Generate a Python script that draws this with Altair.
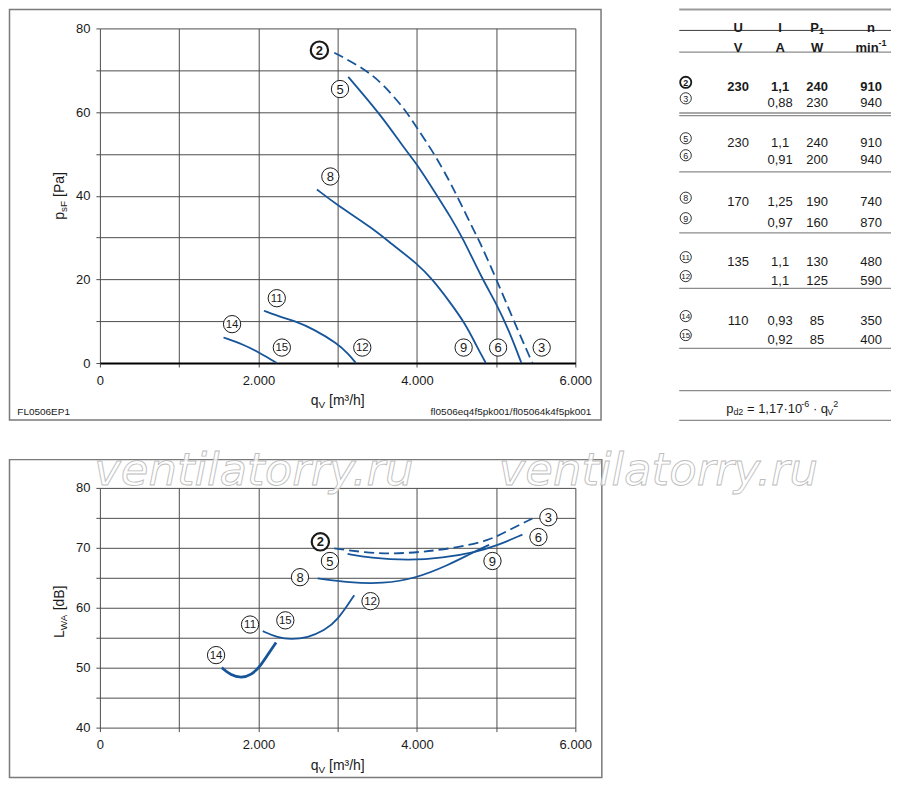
import altair as alt
import pandas as pd

FONT = "Liberation Sans"
BLUE = "#17559a"
GRID = "#4d4d4d"
INK = "#1a1a1a"

# ---------------- data: pressure curves (top) q_V [m3/h] -> p_sF [Pa] ----------------
top_c23_q = [2958, 3336, 3567, 3861, 4008, 4218, 4408, 4492, 4639, 4765, 4808, 4996, 5206, 5458]
top_c23_p = [74.2, 70.4, 66.8, 60.4, 56.0, 50.1, 43.6, 40.5, 34.8, 30.0, 28.3, 20.4, 10.8, 0.0]
top_c56_q = [3134, 3567, 3840, 4015, 4239, 4429, 4576, 4828, 4996, 5164, 5319]
top_c56_p = [68.4, 58.8, 51.3, 47.2, 40.5, 34.8, 30.0, 20.0, 14.5, 7.7, 0.0]
top_c89_q = [2739, 3000, 3434, 3680, 4008, 4197, 4408, 4618, 4744, 4870]
top_c89_p = [41.5, 37.7, 32.3, 28.5, 23.7, 20.0, 14.8, 9.2, 4.4, 0.0]
top_c1112_q = [2070, 2307, 2453, 2698, 2995, 3140, 3231]
top_c1112_p = [12.5, 10.8, 10.1, 8.1, 4.7, 2.1, 0.0]
top_c1415_q = [1560, 1815, 2011, 2232]
top_c1415_p = [6.1, 4.4, 2.5, 0.0]

top_lab_id = ["2", "5", "8", "11", "14", "15", "12", "9", "6", "3"]
top_lab_q = [2770, 3030, 2908, 2232, 1668, 2296, 3311, 4590, 5025, 5575]
top_lab_p = [74.8, 65.5, 44.6, 15.5, 9.3, 3.7, 3.7, 3.7, 3.7, 3.7]

# ---------------- data: sound power curves (bottom) q_V [m3/h] -> L_WA [dB] ----------------
bot_c23_q = [2958, 3357, 3693, 4071, 4492, 4912, 5151, 5458]
bot_c23_L = [69.9, 69.2, 69.0, 69.3, 70.0, 71.2, 72.9, 74.9]
bot_c56_q = [3126, 3399, 3903, 4324, 4744, 4996, 5332]
bot_c56_L = [69.0, 68.3, 67.9, 68.3, 69.3, 70.3, 72.2]
bot_c89_q = [2748, 3147, 3567, 3987, 4408, 4660, 4912]
bot_c89_L = [64.9, 64.2, 64.0, 64.9, 67.2, 68.9, 70.5]
bot_c1112_q = [2055, 2244, 2412, 2622, 2832, 3000, 3210]
bot_c1112_L = [56.1, 55.0, 54.7, 55.0, 56.2, 57.9, 62.1]
bot_c1415_q = [1538, 1655, 1782, 1908, 2034, 2139, 2223]
bot_c1415_L = [50.0, 48.7, 48.3, 48.7, 50.4, 52.6, 54.2]

bot_lab_id = ["2", "5", "8", "3", "6", "9", "12", "15", "11", "14"]
bot_lab_q = [2782, 2903, 2525, 5660, 5534, 4954, 3415, 2340, 1895, 1466]
bot_lab_L = [71.0, 67.8, 65.1, 75.1, 71.8, 67.8, 61.1, 57.9, 57.2, 52.1]

# ---------------- data: table ----------------
tab_id = ["2", "3", "5", "6", "8", "9", "11", "12", "14", "15"]
tab_U = ["230", "", "230", "", "170", "", "135", "", "110", ""]
tab_I = ["1,1", "0,88", "1,1", "0,91", "1,25", "0,97", "1,1", "1,1", "0,93", "0,92"]
tab_P = ["240", "230", "240", "200", "190", "160", "130", "125", "85", "85"]
tab_n = ["910", "940", "910", "940", "740", "870", "480", "590", "350", "400"]

x_ticks = [0, 1000, 2000, 3000, 4000, 5000, 6000]
top_y_ticks = [0, 10, 20, 30, 40, 50, 60, 70, 80]
bot_y_ticks = [40, 45, 50, 55, 60, 65, 70, 75, 80]

# ---------------- layout constants ----------------
W, H1, H2 = 476, 335, 240
TAB_W, TAB_H = 212, 393
ROW_Y = [54, 70, 110, 127, 169.5, 190, 229, 248, 288, 307]
COL_X = [59, 101, 138, 192]

ONE = pd.DataFrame({"k": [0]})


def series(name, qs, vs):
    return pd.DataFrame({"c": name, "q": qs, "v": vs})


def ptext(t, x, y, size=14, weight="normal", angle=0, align="left", color=INK,
          font=FONT, baseline="alphabetic"):
    return alt.Chart(ONE).mark_text(
        font=font, fontSize=size, fontWeight=weight, angle=angle, align=align,
        baseline=baseline, color=color
    ).encode(x=alt.value(x), y=alt.value(y), text=alt.value(t))


def x_axis(domain_black):
    kw = dict(
        values=x_ticks,
        labelExpr="datum.value % 2000 == 0 ? replace(format(datum.value, ','), ',', '.') : ''",
        grid=True, gridColor=GRID, gridWidth=1, tickSize=4, tickColor=GRID,
        labelFont=FONT, labelFontSize=13, labelColor=INK, labelPadding=7, title=None,
        labelFlush=False, labelOverlap=False,
    )
    if domain_black:
        kw.update(domain=True, domainColor="black", domainWidth=2)
    else:
        kw.update(domain=False)
    return alt.Axis(**kw)


def y_axis(vals, step):
    return alt.Axis(
        values=vals, labelExpr=f"datum.value % {step} == 0 ? datum.label : ''",
        grid=True, gridColor=GRID, gridWidth=1, tickSize=4, tickColor=GRID,
        domain=False, labelFont=FONT, labelFontSize=13, labelColor=INK,
        labelPadding=6, title=None, labelFlush=False, labelOverlap=False,
    )


def label_layers(ids, qs, vs, X, Y):
    df = pd.DataFrame({"id": ids, "q": qs, "v": vs})
    bold = df[df.id == "2"]
    norm = df[df.id != "2"]
    one = norm[norm.id.str.len() == 1]
    two = norm[norm.id.str.len() == 2]
    circ = alt.Chart(norm).mark_point(shape="circle", size=300, filled=True, fill="white",
                                      stroke=INK, strokeWidth=1, opacity=1).encode(X, Y)
    circb = alt.Chart(bold).mark_point(shape="circle", size=300, filled=True, fill="white",
                                       stroke=INK, strokeWidth=2.2, opacity=1).encode(X, Y)
    t1 = alt.Chart(one).mark_text(font=FONT, fontSize=13, color=INK, baseline="middle",
                                  dy=0.5).encode(X, Y, text="id:N")
    t2 = alt.Chart(two).mark_text(font=FONT, fontSize=11.5, color=INK, baseline="middle",
                                  dy=0.5).encode(X, Y, text="id:N")
    tb = alt.Chart(bold).mark_text(font=FONT, fontSize=13, fontWeight="bold", color=INK,
                                   baseline="middle", dy=0.5).encode(X, Y, text="id:N")
    return [circ, circb, t1, t2, tb]


def qv_title(base_y):
    return [ptext("q", 211, base_y), ptext("V", 218.8, base_y + 3, size=10),
            ptext("[m³/h]", 229.4, base_y)]


# ---------------- top chart ----------------
Xt = alt.X("q:Q", scale=alt.Scale(domain=[0, 6000], nice=False), axis=x_axis(True))
Yt = alt.Y("v:Q", scale=alt.Scale(domain=[0, 80], nice=False), axis=y_axis(top_y_ticks, 20))

top_solid_df = pd.concat([
    series("5-6", top_c56_q, top_c56_p),
    series("8-9", top_c89_q, top_c89_p),
    series("11-12", top_c1112_q, top_c1112_p),
    series("14-15", top_c1415_q, top_c1415_p),
])
top_dash_df = series("2-3", top_c23_q, top_c23_p)

frame_top = alt.Chart(ONE).mark_rect(fillOpacity=0, stroke="#7a7a7a", strokeWidth=1.5).encode(
    x=alt.value(-90.5), x2=alt.value(501.7), y=alt.value(-19), y2=alt.value(392))
top_lines = alt.Chart(top_solid_df).mark_line(color=BLUE, strokeWidth=1.8, interpolate="basis").encode(
    Xt, Yt, detail="c:N")
top_dash = alt.Chart(top_dash_df).mark_line(color=BLUE, strokeWidth=1.8, strokeDash=[10, 5],
                                            interpolate="basis").encode(Xt, Yt)

top_layers = [frame_top, top_lines, top_dash]
top_layers += label_layers(top_lab_id, top_lab_q, top_lab_p, Xt, Yt)
top_layers += qv_title(H1 + 42)
yb = H1 / 2 + 24
top_layers += [
    ptext("p", -35.7, yb, angle=270),
    ptext("sF", -32.7, yb - 7.8, size=10, angle=270),
    ptext("[Pa]", -35.7, yb - 7.8 - 11.1 - 3.9, angle=270),
    ptext("FL0506EP1", -82.7, 387, size=10),
    ptext("fl0506eq4f5pk001/fl05064k4f5pk001", 492, 387, size=10, align="right"),
]
top_chart = alt.layer(*top_layers).properties(width=W, height=H1)

# ---------------- table ----------------
TX = alt.Scale(domain=[0, TAB_W], range=[0, TAB_W])
TY = alt.Scale(domain=[0, TAB_H], range=[0, TAB_H])
TXe = alt.X("tx:Q", scale=TX, axis=None)
TYe = alt.Y("ty:Q", scale=TY, axis=None)

cells = []
for i in range(len(tab_id)):
    for cx, vals in zip(COL_X, [tab_U, tab_I, tab_P, tab_n]):
        if vals[i]:
            cells.append({"tx": cx, "ty": ROW_Y[i] + 4.7, "t": vals[i], "b": i == 0})
cells_df = pd.DataFrame(cells)
head_df = pd.DataFrame({
    "tx": [COL_X[0], COL_X[1], COL_X[3], COL_X[0], COL_X[1], COL_X[2]],
    "ty": [0, 0, 0, 19.4, 19.4, 19.4],
    "t": ["U", "I", "n", "V", "A", "W"],
})
head_left_df = pd.DataFrame({
    "tx": [131.2, 139.9, 176.5, 199.5],
    "ty": [0, 3, 19.4, 14.4],
    "t": ["P", "1", "min", "-1"],
    "fs": [13, 9, 13, 9],
})
formula_df = pd.DataFrame({
    "tx": [47, 54.2, 67.8, 122.2, 133.8, 148.2, 154.2],
    "ty": [381, 384, 381, 376, 381, 384, 376],
    "t": ["p", "d2", "= 1,17·10", "-6", "· q", "V", "2"],
    "fs": [13, 9, 13, 9, 13, 9, 9],
})
circ_df = pd.DataFrame({"tx": 6.5, "ty": ROW_Y, "id": tab_id})
circ_one = circ_df[(circ_df.id.str.len() == 1) & (circ_df.id != "2")]
circ_two = circ_df[circ_df.id.str.len() == 2]
circ_bold = circ_df[circ_df.id == "2"]
circ_norm = circ_df[circ_df.id != "2"]

rules_top = pd.DataFrame({"ty": [-19], "x1": [0], "x2": [TAB_W]})
rules_dark = pd.DataFrame({"ty": [2], "x1": [0], "x2": [TAB_W]})
rules_gray = pd.DataFrame({"ty": [23.7, 84.7, 87.3, 143.7, 204.7, 260.3, 320.3, 362.7, 392.5],
                           "x1": 0, "x2": TAB_W})
X1 = alt.X("x1:Q", scale=TX, axis=None)

tab_layers = [
    alt.Chart(rules_top).mark_rule(color="#9a9a9a", strokeWidth=2).encode(X1, x2="x2:Q", y=TYe),
    alt.Chart(rules_dark).mark_rule(color="#3a3a3a", strokeWidth=1).encode(X1, x2="x2:Q", y=TYe),
    alt.Chart(rules_gray).mark_rule(color="#8c8c8c", strokeWidth=1.3).encode(X1, x2="x2:Q", y=TYe),
    alt.Chart(cells_df[cells_df.b]).mark_text(font=FONT, fontSize=13, fontWeight="bold", color=INK).encode(TXe, TYe, text="t:N"),
    alt.Chart(cells_df[~cells_df.b]).mark_text(font=FONT, fontSize=13, color=INK).encode(TXe, TYe, text="t:N"),
    alt.Chart(head_df).mark_text(font=FONT, fontSize=13, fontWeight="bold", color=INK).encode(TXe, TYe, text="t:N"),
    alt.Chart(head_left_df).mark_text(font=FONT, fontWeight="bold", color=INK, align="left").encode(
        TXe, TYe, text="t:N", size=alt.Size("fs:Q", scale=None)),
    alt.Chart(formula_df).mark_text(font=FONT, color=INK, align="left").encode(
        TXe, TYe, text="t:N", size=alt.Size("fs:Q", scale=None)),
    alt.Chart(circ_norm).mark_point(shape="circle", size=125, filled=True, fill="white",
                                    stroke=INK, strokeWidth=0.9, opacity=1).encode(TXe, TYe),
    alt.Chart(circ_bold).mark_point(shape="circle", size=125, filled=True, fill="white",
                                    stroke=INK, strokeWidth=1.8, opacity=1).encode(TXe, TYe),
    alt.Chart(circ_one).mark_text(font=FONT, fontSize=9, color=INK, baseline="middle", dy=0.5).encode(TXe, TYe, text="id:N"),
    alt.Chart(circ_two).mark_text(font=FONT, fontSize=8, color=INK, baseline="middle", dy=0.5).encode(TXe, TYe, text="id:N"),
    alt.Chart(circ_bold).mark_text(font=FONT, fontSize=9, fontWeight="bold", color=INK, baseline="middle", dy=0.5).encode(TXe, TYe, text="id:N"),
]
table_chart = alt.layer(*tab_layers).properties(width=TAB_W, height=TAB_H)

# ---------------- bottom chart ----------------
Xb = alt.X("q:Q", scale=alt.Scale(domain=[0, 6000], nice=False), axis=x_axis(False))
Yb = alt.Y("v:Q", scale=alt.Scale(domain=[40, 80], nice=False, zero=False), axis=y_axis(bot_y_ticks, 10))

bot_solid_df = pd.concat([
    series("5-6", bot_c56_q, bot_c56_L),
    series("8-9", bot_c89_q, bot_c89_L),
    series("11-12", bot_c1112_q, bot_c1112_L),
])
bot_thick_df = series("14-15", bot_c1415_q, bot_c1415_L)
bot_dash_df = series("2-3", bot_c23_q, bot_c23_L)

frame_bot = alt.Chart(ONE).mark_rect(fillOpacity=0, stroke="#7a7a7a", strokeWidth=1.5).encode(
    x=alt.value(-90.5), x2=alt.value(502.5), y=alt.value(-28.3), y2=alt.value(290))
bot_layers = [
    frame_bot,
    alt.Chart(bot_solid_df).mark_line(color=BLUE, strokeWidth=1.8, interpolate="basis").encode(Xb, Yb, detail="c:N"),
    alt.Chart(bot_thick_df).mark_line(color=BLUE, strokeWidth=2.8, interpolate="basis").encode(Xb, Yb),
    alt.Chart(bot_dash_df).mark_line(color=BLUE, strokeWidth=1.8, strokeDash=[10, 5], interpolate="basis").encode(Xb, Yb),
]
bot_layers += label_layers(bot_lab_id, bot_lab_q, bot_lab_L, Xb, Yb)
bot_layers += qv_title(H2 + 42)
yb2 = 124 + 26.4
bot_layers += [
    ptext("L", -35.7, yb2, angle=270),
    ptext("WA", -32.7, yb2 - 7.8, size=10, angle=270),
    ptext("[dB]", -35.7, yb2 - 7.8 - 16.1 - 3.9, angle=270),
]
for wx in [-5.7, 399.3]:
    bot_layers.append(
        alt.Chart(ONE).mark_text(font="DejaVu Sans", fontStyle="italic", fontSize=45, align="left",
                                 baseline="alphabetic", fill="white", fillOpacity=0.75,
                                 stroke="#bdbdbd", strokeWidth=0.9).encode(
            x=alt.value(wx), y=alt.value(-3.3), text=alt.value("ventilatorry.ru")))
bottom_chart = alt.layer(*bot_layers).properties(width=W, height=H2)

top_row = alt.hconcat(top_chart, table_chart, spacing=74)
chart = alt.vconcat(top_row, bottom_chart, spacing=26).properties(
    padding=0
).configure(padding=0).configure_view(strokeWidth=0)

chart.save("out.html", embed_options={"renderer": "svg", "actions": False})
